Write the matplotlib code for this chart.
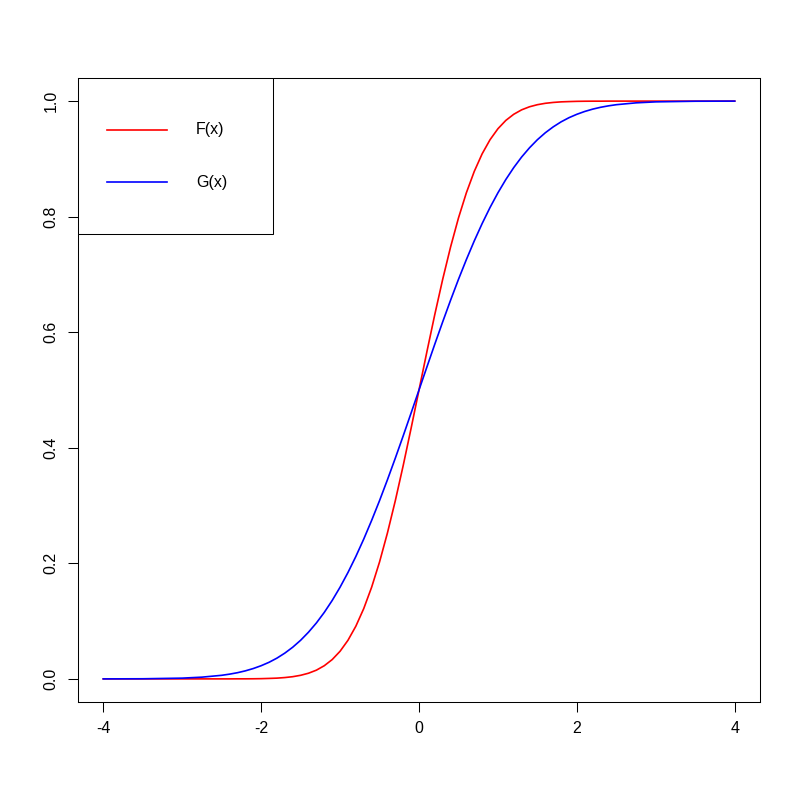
import matplotlib
matplotlib.use('Agg')
import matplotlib.pyplot as plt
from matplotlib.patches import Rectangle

plt.rcParams['font.family'] = ['Liberation Sans', 'DejaVu Sans']

# values
x = [-4, -3.5, -3, -2.75,
     -2.5, -2.4, -2.3, -2.2, -2.1, -2.0, -1.9, -1.8, -1.7, -1.6, -1.5, -1.4, -1.3,
     -1.2, -1.1, -1.0, -0.9, -0.8, -0.7, -0.6, -0.5, -0.4, -0.3, -0.2, -0.1, 0,
     0.1, 0.2, 0.3, 0.4, 0.5, 0.6, 0.7, 0.8, 0.9, 1.0, 1.1, 1.2, 1.3,
     1.4, 1.5, 1.6, 1.7, 1.8, 1.9, 2.0, 2.1, 2.2, 2.3, 2.4, 2.5,
     2.75, 3, 3.5, 4]

F = [0.0, 0.0, 0.0, 0.0,
     0.0, 0.0, 0.0001, 0.0001, 0.0002, 0.0004, 0.0008, 0.0013, 0.0023, 0.0038, 0.0062, 0.0098, 0.0151,
     0.0228, 0.0334, 0.0478, 0.0668, 0.0912, 0.1217, 0.1587, 0.2023, 0.2525, 0.3085, 0.3694, 0.4338, 0.5,
     0.5662, 0.6306, 0.6915, 0.7475, 0.7977, 0.8413, 0.8783, 0.9088, 0.9332, 0.9522, 0.9666, 0.9772, 0.9849,
     0.9902, 0.9938, 0.9962, 0.9977, 0.9987, 0.9992, 0.9996, 0.9998, 0.9999, 0.9999, 1.0, 1.0,
     1.0, 1.0, 1.0, 1.0]

G = [0.0, 0.0002, 0.0013, 0.0030,
     0.0062, 0.0082, 0.0107, 0.0139, 0.0179, 0.0228, 0.0287, 0.0359, 0.0446, 0.0548, 0.0668, 0.0808, 0.0968,
     0.1151, 0.1357, 0.1587, 0.1841, 0.2119, 0.2420, 0.2743, 0.3085, 0.3446, 0.3821, 0.4207, 0.4602, 0.5,
     0.5398, 0.5793, 0.6179, 0.6554, 0.6915, 0.7257, 0.7580, 0.7881, 0.8159, 0.8413, 0.8643, 0.8849, 0.9032,
     0.9192, 0.9332, 0.9452, 0.9554, 0.9641, 0.9713, 0.9772, 0.9821, 0.9861, 0.9893, 0.9918, 0.9938,
     0.9970, 0.9987, 0.9998, 1.0]

labels = ['F(x)', 'G(x)']
colors = ['red', 'blue']

fig = plt.figure(figsize=(8, 8), dpi=100)
ax = fig.add_axes([0.0975, 0.1225, 0.8525, 0.78])

ax.plot(x, F, color=colors[0], lw=1.2)
ax.plot(x, G, color=colors[1], lw=1.2)

ax.set_xlim(-4.32, 4.32)
ax.set_ylim(-0.04, 1.04)
ax.set_xticks([-4, -2, 0, 2, 4])
ax.set_yticks([0.0, 0.2, 0.4, 0.6, 0.8, 1.0])
ax.set_xticklabels(['-4', '-2', '0', '2', '4'])
ax.set_yticklabels(['0.0', '0.2', '0.4', '0.6', '0.8', '1.0'], rotation=90, va='center')
ax.tick_params(length=7, width=0.75, labelsize=11.5, pad=7)
for s in ax.spines.values():
    s.set_linewidth(0.75)

# legend box in the top-left corner
ax.add_patch(Rectangle((0, 0.75), 0.286, 0.25, transform=ax.transAxes,
                       facecolor='white', edgecolor='black', lw=0.75, zorder=5))
for i, (lab, c) in enumerate(zip(labels, colors)):
    yy = 0.9167 - i * 0.0834
    ax.plot([0.0425, 0.1305], [yy, yy], color=c, lw=1.2, transform=ax.transAxes, zorder=6)
    ax.text(0.173, yy, lab, transform=ax.transAxes, fontsize=11.5,
            va='center', ha='left', zorder=6)

plt.savefig('out.png', dpi=100)
